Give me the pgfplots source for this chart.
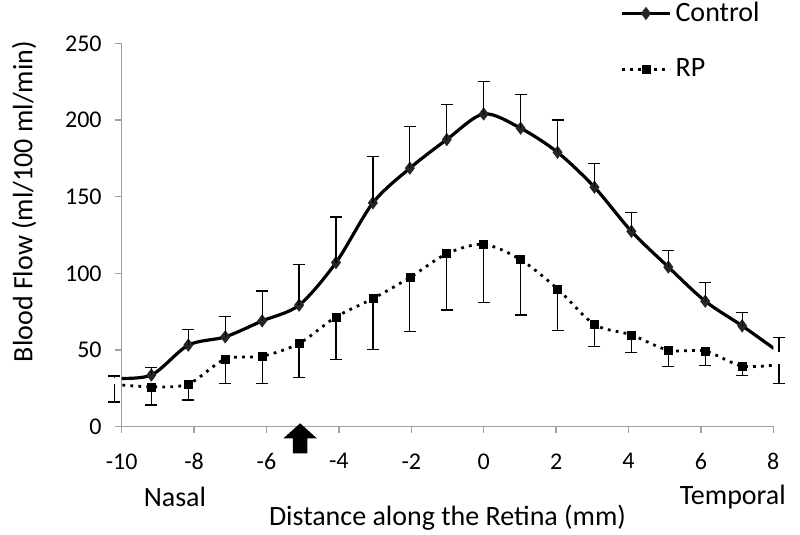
\documentclass[border=0pt]{standalone}
\usepackage{pgfplots}
\pgfplotsset{compat=1.18}
\usepackage{pgfplotstable}
\usepackage{fontspec}
\setmainfont{Carlito}

% x = k*1.02 mm, y = flow, e = SD
\pgfplotstableread{
x      y      e
-10.20 31.5   1.5
-9.18  33.6   4.9
-8.16  53.1  10.4
-7.14  58.5  13.5
-6.12  68.9  19.6
-5.10  79.2  26.7
-4.08 107.0  29.7
-3.06 146.0  30.2
-2.04 168.6  27.4
-1.02 187.3  22.7
0.00  204.0  21.0
1.02  194.7  21.9
2.04  179.0  21.0
3.06  156.2  15.3
4.08  127.4  12.3
5.10  104.1  10.9
6.12   81.8  12.1
7.14   65.7   8.7
8.16   48.5   9.5
}\control
\pgfplotstableread{
x      y      e
-10.20 27.5  11.5
-9.18  25.9  11.9
-8.16  27.7  10.4
-7.14  44.0  15.9
-6.12  45.9  17.8
-5.10  54.2  22.2
-4.08  71.5  27.7
-3.06  83.5  33.0
-2.04  97.2  35.0
-1.02 112.8  36.7
0.00  118.9  37.8
1.02  108.9  36.1
2.04   89.8  26.9
3.06   66.6  14.6
4.08   59.8  11.7
5.10   49.8  10.8
6.12   49.2   9.6
7.14   39.4   5.9
8.16   40.5  12.5
}\rp

\pgfplotsset{
  base/.style={
    width=325.8pt, height=191.5pt, scale only axis,
    at={(0,0)}, anchor=south west,
    xmin=-10, xmax=8, ymin=0, ymax=250,
  },
}

\begin{document}
\begin{tikzpicture}
\begin{axis}[base,
  axis lines*=left,
  axis line style={gray!75, line width=0.65pt},
  xtick={-10,-8,...,8},
  ytick={0,50,...,250},
  tick align=outside,
  major tick length=3.5pt,
  tick style={gray!75, line width=0.65pt},
  tick label style={font=\fontsize{12}{14}\selectfont},
  /pgf/number format/assume math mode=true,
  xticklabel style={yshift=-6.5pt},
  yticklabel style={xshift=-3pt},
  label style={font=\fontsize{14}{17}\selectfont},
  xlabel={Distance along the Retina (mm)},
  x label style={at={(axis description cs:0.5,-0.239)}, anchor=center},
  ylabel={Blood Flow (ml/100 ml/min)},
  y label style={at={(axis description cs:-0.15,0.5875)}, anchor=center},
  legend style={draw=none, fill=none, at={(axis description cs:0.7647,1.0065)},
    anchor=west, inner sep=0pt, row sep=17pt,
    font=\fontsize{14}{17}\selectfont,
    nodes={inner sep=0pt},
    /tikz/every odd column/.append style={column sep=2pt}},
  legend cell align=left,
  legend image code/.code={\draw[mark repeat=2,mark phase=2,#1] plot coordinates {(0pt,0pt) (12pt,0pt) (24pt,0pt)};},
]
\addplot[black, line width=1.6pt, smooth, mark=diamond*, mark size=3pt,
  mark options={solid, fill=black!85, draw=black!85, line width=0.4pt}]
  table[x=x, y=y] {\control};
\addlegendentry{Control}
\addplot[black, line width=1.4pt, dash pattern=on 1.4pt off 2.6pt, smooth,
  mark=square*, mark size=2pt, mark options={solid, line width=0.3pt}]
  table[x=x, y=y] {\rp};
\addlegendentry{RP}
\end{axis}

\begin{axis}[base, hide axis, clip=false]
\addplot[draw=none, mark=none, error bars/.cd, y dir=plus, y explicit,
  error bar style={draw=black, line width=0.6pt, solid},
  error mark options={rotate=90, mark size=3pt, line width=0.6pt, draw=black}]
  table[x=x, y=y, y error=e] {\control};
\addplot[draw=none, mark=none, error bars/.cd, y dir=minus, y explicit,
  error bar style={draw=black, line width=0.6pt, solid},
  error mark options={rotate=90, mark size=3pt, line width=0.6pt, draw=black}]
  table[x=x, y=y, y error=e] {\rp};
\node[font=\fontsize{14}{17}\selectfont] at (axis cs:-8.53,0) [yshift=-35.25pt] {Nasal};
\node[font=\fontsize{14}{17}\selectfont] at (axis cs:6.88,0) [yshift=-35.25pt] {Temporal};
\fill[black] (axis cs:-5.07,2.1) -- (axis cs:-4.61,-7.7) -- (axis cs:-4.87,-7.7)
  -- (axis cs:-4.87,-17.5) -- (axis cs:-5.27,-17.5) -- (axis cs:-5.27,-7.7)
  -- (axis cs:-5.53,-7.7) -- cycle;
\end{axis}

\pgfresetboundingbox
\path (-60.85pt,-54.25pt) rectangle (339.15pt,213.25pt);
\end{tikzpicture}
\end{document}
